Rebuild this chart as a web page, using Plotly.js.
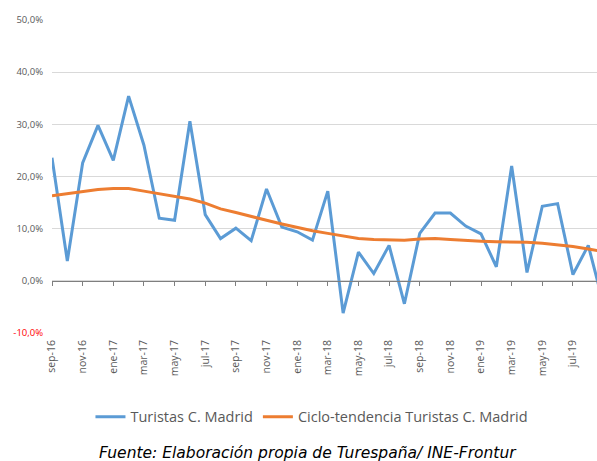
<!DOCTYPE html>
<html>
<head>
<meta charset="utf-8">
<script src="https://cdn.plot.ly/plotly-3.0.1.min.js"></script>
<style>html,body{margin:0;padding:0;background:#fff;}#chart{width:597px;height:461px;}</style>
</head>
<body>
<div id="chart"></div>
<script>
const months = ["sep-16","oct-16","nov-16","dic-16","ene-17","feb-17","mar-17","abr-17","may-17","jun-17","jul-17","ago-17",
  "sep-17","oct-17","nov-17","dic-17","ene-18","feb-18","mar-18","abr-18","may-18","jun-18","jul-18","ago-18",
  "sep-18","oct-18","nov-18","dic-18","ene-19","feb-19","mar-19","abr-19","may-19","jun-19","jul-19","ago-19","sep-19"];
const turistas = [23.6,3.8,22.6,29.8,23.1,35.4,26.0,12.0,11.6,30.6,12.7,8.1,
  10.1,7.7,17.6,10.3,9.4,7.8,17.2,-6.2,5.5,1.4,6.8,-4.4,
  9.1,13.0,13.0,10.5,9.0,2.7,22.0,1.6,14.3,14.8,1.2,6.8,-4.5];
const tendencia = [16.3,16.7,17.0,17.5,17.7,17.7,17.2,16.7,16.1,15.7,14.9,13.8,
  13.1,12.3,11.6,10.9,10.2,9.6,9.1,8.6,8.1,7.9,7.8,7.8,
  8.0,8.1,7.9,7.7,7.6,7.5,7.5,7.4,7.2,6.9,6.6,6.1,5.6];
const xTickLabels = ["sep-16","nov-16","ene-17","mar-17","may-17","jul-17","sep-17","nov-17","ene-18",
  "mar-18","may-18","jul-18","sep-18","nov-18","ene-19","mar-19","may-19","jul-19"];
const yTickVals = [-10,0,10,20,30,40,50];
const yTickText = ['<span style="color:#FF0000">-10,0%</span>','0,0%','10,0%','20,0%','30,0%','40,0%','50,0%'];
const seriesNames = ["Turistas C. Madrid","Ciclo-tendencia Turistas C. Madrid"];

const traces = [
  {x: months, y: turistas, type:'scatter', mode:'lines', name: seriesNames[0],
   line:{color:'#5B9BD5', width:3}, xaxis:'x', yaxis:'y'},
  {x: months, y: tendencia, type:'scatter', mode:'lines', name: seriesNames[1],
   line:{color:'#ED7D31', width:3}, xaxis:'x2', yaxis:'y'}
];

const layout = {
  width:597, height:461,
  margin:{l:52, r:0, t:20, b:128},
  paper_bgcolor:'#fff', plot_bgcolor:'#fff',
  showlegend:true,
  legend:{orientation:'h', x:0.477, xanchor:'center', y:-0.268, yanchor:'middle',
    font:{family:'Open Sans, sans-serif', size:14.5, color:'#595959'}, itemwidth:30, tracegroupgap:0},
  xaxis:{type:'category', categoryorder:'array', categoryarray: months, range:[0,35.57],
    tickmode:'array', tickvals:xTickLabels, ticktext:xTickLabels, tickangle:-90,
    ticks:'', showline:false, showgrid:false, zeroline:false,
    tickfont:{family:'Open Sans, sans-serif', size:10.5, color:'#595959'},
    ticklabelstandoff:4},
  xaxis2:{type:'category', categoryorder:'array', categoryarray: months, range:[0,35.57],
    overlaying:'x', anchor:'free', position:1/6, side:'bottom',
    tickmode:'array', tickvals:xTickLabels, showticklabels:false,
    ticks:'outside', ticklen:4, tickwidth:1, tickcolor:'#7F7F7F',
    showline:true, linecolor:'#7F7F7F', linewidth:1.5, showgrid:false, zeroline:false},
  yaxis:{range:[-10,50], tickmode:'array', tickvals:yTickVals, ticktext:yTickText,
    showgrid:true, gridcolor:'#D9D9D9', gridwidth:1, zeroline:false, showline:false,
    ticks:'', tickfont:{family:'Open Sans, sans-serif', size:9.5, color:'#595959'}, ticklabelstandoff:8},
  annotations:[
    {xref:'paper', yref:'paper', x:0.47, y:-0.382, xanchor:'center', yanchor:'middle',
     text:'<i>Fuente: Elaboración propia de Turespaña/ INE-Frontur</i>', showarrow:false,
     font:{family:'DejaVu Sans, sans-serif', size:15.5, color:'#000'}}
  ]
};
Plotly.newPlot('chart', traces, layout, {displayModeBar:false, staticPlot:true});
</script>
</body>
</html>
